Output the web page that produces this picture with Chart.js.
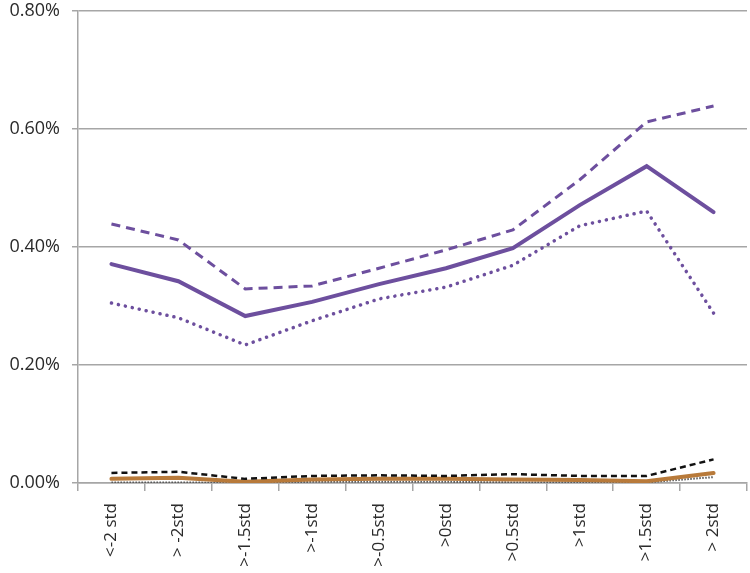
<!DOCTYPE html>
<html>
<head>
<meta charset="utf-8">
<script src="https://cdn.jsdelivr.net/npm/chart.js@4/dist/chart.umd.min.js"></script>
<style>
html,body{margin:0;padding:0;background:#fff;}
#wrap{width:750px;height:573px;position:relative;}
</style>
</head>
<body>
<div id="wrap"><canvas id="c" width="750" height="573"></canvas></div>
<script>
const categories = ["<-2 std", "> -2std", ">-1.5std", ">-1std", ">-0.5std", ">0std", ">0.5std", ">1std", ">1.5std", "> 2std"];
const yTickLabels = ["0.00%", "0.20%", "0.40%", "0.60%", "0.80%"];

// values in percent
const purpleMid   = [0.371, 0.342, 0.283, 0.307, 0.337, 0.364, 0.398, 0.471, 0.537, 0.459];
const purpleHigh  = [0.439, 0.412, 0.329, 0.334, 0.364, 0.395, 0.429, 0.514, 0.612, 0.639];
const purpleLow   = [0.305, 0.280, 0.234, 0.275, 0.312, 0.332, 0.369, 0.436, 0.461, 0.288];
const orangeMid   = [0.007, 0.009, 0.002, 0.006, 0.007, 0.007, 0.006, 0.005, 0.003, 0.017];
const blackHigh   = [0.017, 0.019, 0.007, 0.012, 0.013, 0.012, 0.015, 0.012, 0.012, 0.040];
const blackLow    = [0.001, 0.001, 0.000, 0.002, 0.002, 0.002, 0.001, 0.001, 0.001, 0.010];

const PURPLE = '#6d4f9e';
const ORANGE = '#b87a3a';

function ds(data, color, width, dash, cap, order) {
  return {
    data, borderColor: color, backgroundColor: color, borderWidth: width,
    borderDash: dash, borderCapStyle: cap, pointRadius: 0, pointHoverRadius: 0,
    tension: 0, fill: false, order
  };
}

new Chart(document.getElementById('c'), {
  type: 'line',
  data: {
    labels: categories,
    datasets: [
      ds(blackLow, '#555555', 2, [1.5, 1.5], 'butt', 6),
      ds(orangeMid, ORANGE, 4, [], 'round', 5),
      ds(blackHigh, '#111111', 2.5, [6, 4], 'butt', 4),
      ds(purpleLow, PURPLE, 3.5, [0.1, 7], 'round', 3),
      ds(purpleHigh, PURPLE, 3, [9, 6], 'butt', 2),
      ds(purpleMid, PURPLE, 4, [], 'round', 1)
    ]
  },
  options: {
    responsive: false,
    animation: false,
    events: [],
    layout: { padding: { top: 11, right: 3, left: 0, bottom: 0 } },
    plugins: { legend: { display: false }, tooltip: { enabled: false } },
    scales: {
      x: {
        offset: true,
        grid: { display: true, offset: true, drawOnChartArea: false, drawTicks: true, tickLength: 8, color: '#a6a6a6', lineWidth: 1.5 },
        border: { display: true, color: '#a6a6a6', width: 1.5 },
        ticks: {
          autoSkip: false, maxRotation: 90, minRotation: 90, padding: 12,
          color: '#2a2a2a', font: { family: 'Open Sans', size: 17 }
        },
        afterFit(scale) { scale.height = 90; scale.paddingLeft = 0; scale.paddingRight = 0; }
      },
      y: {
        min: 0, max: 0.8,
        grid: { color: '#a6a6a6', lineWidth: 1.5, drawTicks: true, tickLength: 6 },
        border: { display: true, color: '#a6a6a6', width: 1.5 },
        ticks: {
          stepSize: 0.2, padding: 12, color: '#2a2a2a',
          font: { family: 'Open Sans', size: 18 },
          callback: (v, i) => yTickLabels[i]
        },
        afterFit(scale) { scale.width = 78; scale.paddingTop = 0; scale.paddingBottom = 0; }
      }
    }
  }
});
</script>
</body>
</html>
